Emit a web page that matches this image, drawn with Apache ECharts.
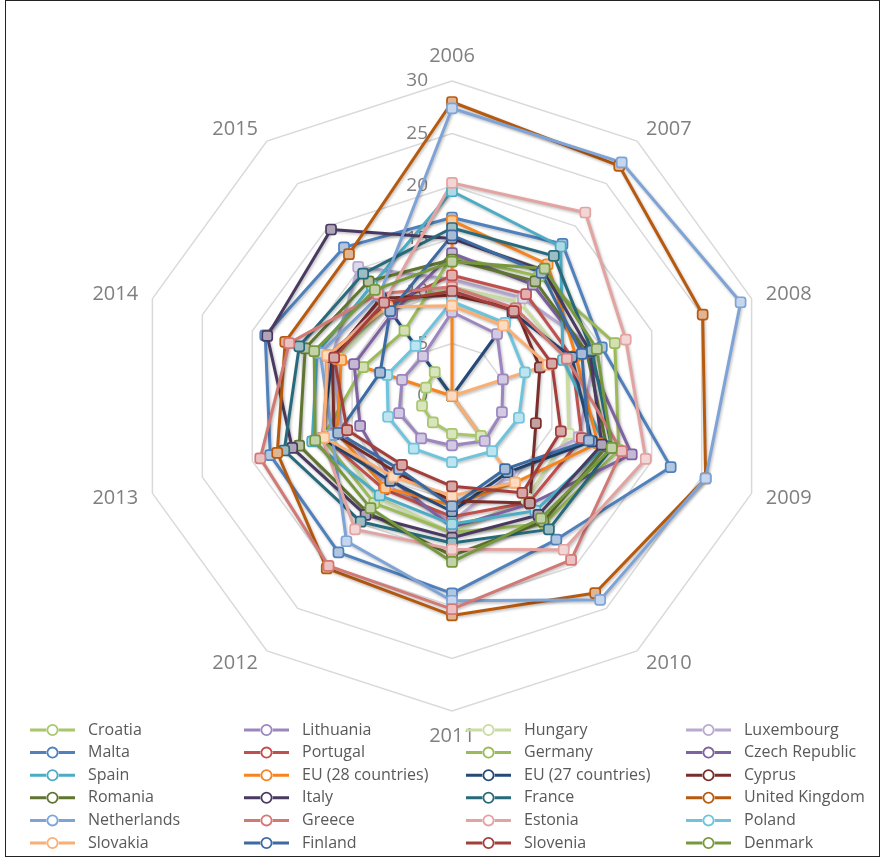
<!DOCTYPE html>
<html>
<head>
<meta charset="utf-8">
<script src="https://cdn.jsdelivr.net/npm/echarts@6/dist/echarts.min.js"></script>
<style>
  html, body { margin: 0; padding: 0; background: #fff; }
  #wrap { position: relative; width: 884px; height: 857px; }
  #chart { width: 884px; height: 857px; }
  #frame { position: absolute; left: 5px; top: 0; width: 873px; height: 855px; border: 1px solid #222; pointer-events: none; }
</style>
</head>
<body>
<div id="wrap"><div id="chart"></div><div id="frame"></div></div>
<script>
// Radar axes (one per year) and the 0–30 value scale
const years = ['2006', '2007', '2008', '2009', '2010', '2011', '2012', '2013', '2014', '2015'];
const scaleMax = 30;

// Series values, 2006 → 2015
const croatia     = [0, 0, 0, 0, 4.7, 3.6, 3.1, 3.0, 2.6, 2.8];
const lithuania   = [8.0, 7.3, 5.1, 5.0, 5.3, 4.7, 5.0, 5.3, 5.0, 4.7];
const hungary     = [10.4, 11.0, 11.5, 11.7, 12.1, 13.0, 12.0, 12.2, 11.5, 10.5];
const luxembourg  = [11.1, 11.5, 14.4, 12.7, 9.3, 12.0, 10.5, 11.0, 12.0, 15.2];
const malta       = [17.0, 17.9, 15.0, 21.9, 16.9, 18.8, 18.4, 18.2, 18.7, 17.5];
const portugal    = [11.5, 12.0, 12.0, 13.0, 12.5, 11.5, 11.0, 12.8, 12.5, 10.6];
const germany     = [13.3, 14.1, 16.3, 16.7, 15.0, 13.0, 12.6, 13.0, 8.9, 7.7];
const czechRep    = [13.6, 13.1, 13.4, 18.0, 12.7, 12.5, 9.8, 9.2, 9.8, 9.7];
const spain       = [19.5, 17.6, 11.1, 15.4, 13.5, 12.2, 11.7, 14.0, 13.5, 13.0];
const eu28        = [16.7, 15.5, 12.4, 14.6, 10.2, 10.4, 10.8, 11.5, 11.1, 0];
const eu27        = [0, 9.8, 12.0, 14.0, 9.0, 11.0, 10.0, 13.0, 12.0, 11.5];
const cyprus      = [9.6, 10.3, 8.8, 8.4, 12.6, 10.0, 9.0, 11.8, 12.0, 11.5];
const romania     = [13.0, 13.5, 13.5, 15.5, 14.8, 15.2, 13.7, 15.3, 14.7, 13.5];
const italy       = [15.0, 14.8, 13.8, 15.0, 14.0, 13.5, 14.0, 16.0, 18.5, 19.6];
const france      = [16.0, 16.5, 14.0, 16.0, 15.7, 14.0, 14.8, 16.8, 15.3, 14.4];
const unitedKing  = [28.0, 27.1, 25.1, 25.4, 23.2, 20.9, 20.3, 17.5, 16.7, 16.7];
const netherlands = [27.4, 27.5, 28.9, 25.4, 24.0, 19.5, 17.1, 12.0, 13.2, 11.8];
const greece      = [10.4, 10.3, 11.5, 17.0, 19.3, 20.3, 20.0, 19.2, 16.3, 12.0];
const estonia     = [20.3, 21.6, 17.4, 19.4, 18.1, 14.6, 15.7, 13.0, 12.3, 11.0];
const poland      = [9.0, 8.6, 7.3, 6.7, 6.5, 6.3, 6.2, 6.4, 6.5, 5.9];
const slovakia    = [8.6, 8.3, 9.6, 0, 10.2, 9.5, 9.5, 12.8, 12.5, 10.5];
const finland     = [15.3, 14.5, 13.0, 13.7, 8.6, 10.5, 8.6, 11.4, 7.2, 10.0];
const slovenia    = [10.0, 10.0, 10.0, 10.9, 11.4, 8.6, 8.1, 10.5, 11.8, 11.0];
const denmark     = [12.8, 15.0, 14.5, 16.0, 14.4, 15.8, 13.2, 13.7, 13.8, 12.5];

// Series names in drawing (and legend) order, with their values
const seriesNames = ['Croatia', 'Lithuania', 'Hungary', 'Luxembourg', 'Malta', 'Portugal', 'Germany',
  'Czech Republic', 'Spain', 'EU (28 countries)', 'EU (27 countries)', 'Cyprus', 'Romania', 'Italy',
  'France', 'United Kingdom', 'Netherlands', 'Greece', 'Estonia', 'Poland', 'Slovakia', 'Finland',
  'Slovenia', 'Denmark'];
const seriesValues = [croatia, lithuania, hungary, luxembourg, malta, portugal, germany, czechRep,
  spain, eu28, eu27, cyprus, romania, italy, france, unitedKing, netherlands, greece, estonia,
  poland, slovakia, finland, slovenia, denmark];

// Line colours per series
const lineColors = {
  'Croatia': '#A8C66C', 'Lithuania': '#9C86BF', 'Hungary': '#C9DCA2', 'Luxembourg': '#B8A9D0',
  'Malta': '#4F81BD', 'Portugal': '#C0504D', 'Germany': '#9BBB59', 'Czech Republic': '#7E62A1',
  'Spain': '#4BACC6', 'EU (28 countries)': '#F6841F', 'EU (27 countries)': '#254A78', 'Cyprus': '#7A2E2C',
  'Romania': '#5F7530', 'Italy': '#4A3A62', 'France': '#276A7C', 'United Kingdom': '#B85A0E',
  'Netherlands': '#7EA3D6', 'Greece': '#D27875', 'Estonia': '#E3A3A1', 'Poland': '#6DC4DC',
  'Slovakia': '#F9AE74', 'Finland': '#3C6AA3', 'Slovenia': '#A33E3B', 'Denmark': '#77993D'
};

// ECharts lays radar axes out counter-clockwise; walk the years so they run clockwise from the top
const axisOrder = years.map((_, i) => (years.length - i) % years.length);

// Lighter tint used to fill the markers
function tint(hex, k) {
  const n = parseInt(hex.slice(1), 16);
  const r = (n >> 16) & 255, g = (n >> 8) & 255, b = n & 255;
  const m = c => Math.round(c + (255 - c) * k);
  return 'rgb(' + m(r) + ',' + m(g) + ',' + m(b) + ')';
}

const series = seriesNames.map((name, i) => {
  const c = lineColors[name];
  return {
    type: 'radar',
    name: name,
    symbol: 'roundRect',
    symbolSize: 10,
    z: 2,
    lineStyle: {
      color: c, width: 3,
      shadowColor: 'rgba(0,0,0,0.28)', shadowBlur: 3, shadowOffsetX: 1, shadowOffsetY: 1.5
    },
    itemStyle: { color: tint(c, 0.55), borderColor: c, borderWidth: 1.7 },
    emphasis: { disabled: true },
    data: [{ name: name, value: axisOrder.map(k => seriesValues[i][k]) }]
  };
});

// Legend icon: short line with a ring marker in the middle
const legendIcon = 'path://M0,5.5L17,5.5L17,8.5L0,8.5Z M28,5.5L45,5.5L45,8.5L28,8.5Z ' +
  'M16.5,7A6,6 0 1,0 28.5,7A6,6 0 1,0 16.5,7Z M18.3,7A4.2,4.2 0 1,1 26.7,7A4.2,4.2 0 1,1 18.3,7Z';

const columnLefts = [25, 239, 461, 681];
const legends = columnLefts.map((left, col) => ({
  orient: 'vertical',
  left: left,
  top: 717,
  height: 140,
  itemWidth: 45,
  itemHeight: 12,
  itemGap: 6.6,
  icon: legendIcon,
  textStyle: { fontFamily: 'Open Sans', fontSize: 16, color: '#595959', padding: [0, 0, 0, 8] },
  selectedMode: false,
  data: seriesNames.filter((_, i) => i % 4 === col).map(n => ({
    name: n,
    icon: legendIcon,
    itemStyle: { color: lineColors[n], borderWidth: 0 }
  }))
}));

const indicators = axisOrder.map((k, i) => {
  const ind = { name: years[k], max: scaleMax, min: 0 };
  if (i === 0) {
    ind.axisLabel = {
      show: true, fontFamily: 'Open Sans', fontSize: 19, color: '#7F7F7F', margin: 24
    };
  }
  return ind;
});

const chart = echarts.init(document.getElementById('chart'), null, { renderer: 'canvas' });
chart.setOption({
  animation: false,
  backgroundColor: '#fff',
  legend: legends,
  radar: {
    center: [452, 396],
    radius: 315,
    startAngle: 90,
    splitNumber: 6,
    shape: 'polygon',
    indicator: indicators,
    nameGap: 15,
    axisName: { fontFamily: 'Open Sans', fontSize: 20, color: '#7F7F7F' },
    axisLine: { show: false },
    axisTick: { show: false },
    axisLabel: { show: false },
    splitArea: { show: false },
    splitLine: { lineStyle: { color: '#D9D9D9', width: 1.5 } }
  },
  series: series
});
</script>
</body>
</html>
